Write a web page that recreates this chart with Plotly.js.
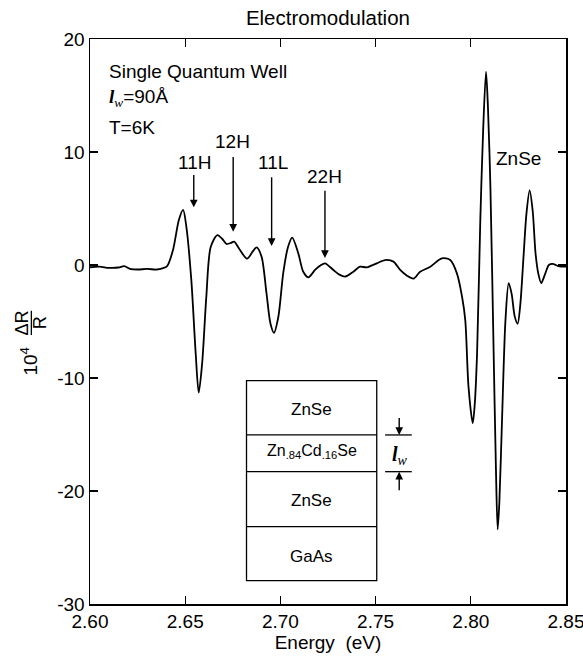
<!DOCTYPE html>
<html>
<head>
<meta charset="utf-8">
<script src="https://cdn.plot.ly/plotly-3.0.1.min.js"></script>
<style>html,body{margin:0;padding:0;background:#fff;}#chart{width:583px;height:660px;}</style>
</head>
<body>
<div id="chart"></div>
<script>
// Energy (eV)
const energy = [
  2.600, 2.605, 2.610, 2.615, 2.618, 2.621, 2.625, 2.630, 2.635, 2.638,
  2.6405, 2.6436, 2.6467, 2.6489, 2.6506, 2.6532, 2.6555, 2.6571, 2.6589, 2.6611,
  2.6634, 2.6669, 2.6695, 2.6717, 2.6740, 2.6757, 2.6785, 2.6825, 2.6855, 2.6875,
  2.6901, 2.6927, 2.6948, 2.6966, 2.6989, 2.7015, 2.7040, 2.7062, 2.7094, 2.7120,
  2.7147, 2.7182, 2.7210, 2.7234, 2.7278, 2.7310, 2.7340, 2.7383, 2.7418, 2.7454,
  2.7506, 2.7550, 2.7594, 2.7629, 2.7665, 2.7699, 2.7734, 2.7787, 2.7848, 2.7892,
  2.7927, 2.7954, 2.7971, 2.7988, 2.8010, 2.8020, 2.8033, 2.8050, 2.8065, 2.8080,
  2.8090, 2.8103, 2.8120, 2.8132, 2.8141, 2.8150, 2.8164, 2.8182, 2.8199, 2.8215,
  2.8230, 2.8246, 2.8260, 2.8278, 2.8292, 2.8309, 2.8325, 2.8340, 2.8355, 2.8370,
  2.8390, 2.8410, 2.8430, 2.8460, 2.8500
];
// 10^4 ΔR/R
const dRR = [
  -0.20, -0.15, -0.25, -0.22, -0.10, -0.35, -0.40, -0.35, -0.40, -0.30,
  -0.10, 1.33, 4.00, 4.87, 3.40, -1.30, -7.80, -11.30, -8.70, -2.80,
  1.60, 2.65, 2.30, 1.86, 1.95, 2.06, 1.40, 0.56, 1.20, 1.56,
  0.74, -2.50, -5.20, -6.00, -4.60, -0.70, 1.60, 2.42, 1.03, -0.60,
  -1.09, -0.44, -0.05, 0.15, -0.44, -0.85, -1.03, -0.60, -0.15, -0.21,
  0.15, 0.44, 0.30, -0.44, -0.95, -1.21, -0.60, -0.15, 0.59, 0.44,
  -0.74, -2.80, -4.90, -10.80, -14.00, -12.50, -7.80, 4.00, 12.00, 17.10,
  14.00, 6.90, -7.80, -18.00, -23.40, -21.00, -13.70, -4.90, -1.60, -2.60,
  -4.50, -5.20, -3.50, 1.03, 4.50, 6.60, 4.80, 1.03, -0.80, -1.60,
  -0.80, 0.00, 0.10, -0.10, -0.15
];
const xTicks = [2.60, 2.65, 2.70, 2.75, 2.80, 2.85];
const xTickText = ["2.60", "2.65", "2.70", "2.75", "2.80", "2.85"];
const yTicks = [20, 10, 0, -10, -20, -30];
const yTickText = ["20", "10", "0", "-10", "-20", "-30"];

const F = "Liberation Sans, Arial, Helvetica, sans-serif";
const SERIF = "Liberation Serif, Times New Roman, serif";
const fs = 19;

const trace = {
  x: energy, y: dRR, type: 'scatter', mode: 'lines',
  line: {color: '#000', width: 1.8, shape: 'spline', smoothing: 0.8},
  hoverinfo: 'skip', showlegend: false
};

function txt(x, y, text, size, opts) {
  return Object.assign({x: x, y: y, xref: 'x', yref: 'y', text: text, showarrow: false,
    font: {family: F, size: size || fs, color: '#000'}, xanchor: 'center', yanchor: 'middle'}, opts || {});
}
function arrow(x, y, ax, ay) {
  return {x: x, y: y, ax: ax, ay: ay, xref: 'x', yref: 'y', axref: 'x', ayref: 'y', text: '',
    showarrow: true, arrowhead: 2, arrowsize: 1.1, arrowwidth: 1.4, arrowcolor: '#000', standoff: 0, startstandoff: 0};
}
const lw = '<span style="font-family:' + SERIF + '"><b><i>l</i></b><sub><i>w</i></sub></span>';

const annotations = [
  {xref: 'paper', yref: 'paper', x: 0.0347, y: 0.942, xanchor: 'left', yanchor: 'middle', showarrow: false,
   text: 'Single Quantum Well', font: {family: F, size: fs, color: '#000'}},
  {xref: 'paper', yref: 'paper', x: 0.0347, y: 0.8956, xanchor: 'left', yanchor: 'middle', showarrow: false,
   text: lw + '=90Å', font: {family: F, size: fs, color: '#000'}},
  {xref: 'paper', yref: 'paper', x: 0.0347, y: 0.8425, xanchor: 'left', yanchor: 'middle', showarrow: false,
   text: 'T=6K', font: {family: F, size: fs, color: '#000'}},
  txt(2.655, 9.03, '11H'),
  txt(2.675, 10.9, '12H'),
  txt(2.696, 9.03, '11L'),
  txt(2.7234, 7.8, '22H'),
  txt(2.825, 9.4, 'ZnSe'),
  arrow(2.6545, 5.1, 2.6545, 8.1),
  arrow(2.6752, 2.95, 2.6752, 9.7),
  arrow(2.6954, 1.68, 2.6954, 7.9),
  arrow(2.7234, 0.62, 2.7234, 6.7),
  // inset labels
  txt(2.7164, -12.83, 'ZnSe', 17),
  txt(2.7164, -16.52, 'Zn<sub>.84</sub>Cd<sub>.16</sub>Se', 16),
  txt(2.7164, -20.8, 'ZnSe', 17),
  txt(2.7164, -25.8, 'GaAs', 17),
  arrow(2.7624, -15.04, 2.7624, -13.4),
  arrow(2.7624, -18.29, 2.7624, -20.06),
  txt(2.7629, -16.9, lw, 20),
  // y-axis label
  {xref: 'paper', yref: 'paper', x: -0.127, y: 0.43, textangle: -90, showarrow: false,
   text: '10<sup>4</sup>', font: {family: F, size: fs, color: '#000'}, xanchor: 'center', yanchor: 'middle'},
  {xref: 'paper', yref: 'paper', x: -0.142, y: 0.497, textangle: -90, showarrow: false,
   text: 'ΔR', font: {family: F, size: 18, color: '#000'}, xanchor: 'center', yanchor: 'middle'},
  {xref: 'paper', yref: 'paper', x: -0.105, y: 0.497, textangle: -90, showarrow: false,
   text: 'R', font: {family: F, size: 18, color: '#000'}, xanchor: 'center', yanchor: 'middle'}
];

const lineS = {color: '#000', width: 1.3};
const shapes = [
  {type: 'rect', xref: 'x', yref: 'y', x0: 2.6822, x1: 2.7506, y0: -27.94, y1: -10.24, line: lineS, fillcolor: 'rgba(0,0,0,0)'},
  {type: 'line', xref: 'x', yref: 'y', x0: 2.6822, x1: 2.7506, y0: -15.04, y1: -15.04, line: lineS},
  {type: 'line', xref: 'x', yref: 'y', x0: 2.6822, x1: 2.7506, y0: -18.29, y1: -18.29, line: lineS},
  {type: 'line', xref: 'x', yref: 'y', x0: 2.6822, x1: 2.7506, y0: -23.16, y1: -23.16, line: lineS},
  {type: 'line', xref: 'x', yref: 'y', x0: 2.755, x1: 2.769, y0: -15.04, y1: -15.04, line: lineS},
  {type: 'line', xref: 'x', yref: 'y', x0: 2.755, x1: 2.769, y0: -18.29, y1: -18.29, line: lineS},
  {type: 'line', xref: 'paper', yref: 'paper', x0: -0.1232, x1: -0.1232, y0: 0.476, y1: 0.519, line: {color: '#000', width: 1.3}}
];

const axisCommon = {
  showgrid: false, zeroline: false, showline: true, linecolor: '#000', linewidth: 1.5,
  mirror: 'ticks', ticks: 'inside', ticklen: 8, tickwidth: 1.3, tickcolor: '#000',
  tickfont: {family: F, size: fs, color: '#000'}, ticklabeloverflow: 'allow'
};

const layout = {
  width: 583, height: 660,
  margin: {l: 90, r: 17, t: 39, b: 56},
  paper_bgcolor: '#fff', plot_bgcolor: '#fff',
  title: {text: 'Electromodulation', font: {family: F, size: 20.5, color: '#000'},
          x: 0.5625, xanchor: 'center', y: 0.973, yanchor: 'middle', yref: 'container'},
  xaxis: Object.assign({}, axisCommon, {range: [2.60, 2.85], tickvals: xTicks, ticktext: xTickText,
    title: {text: 'Energy  (eV)', font: {family: F, size: fs, color: '#000'}, standoff: 2}}),
  yaxis: Object.assign({}, axisCommon, {range: [-30, 20], tickvals: yTicks, ticktext: yTickText}),
  annotations: annotations,
  shapes: shapes
};

Plotly.newPlot('chart', [trace], layout, {displayModeBar: false, staticPlot: true});
</script>
</body>
</html>
